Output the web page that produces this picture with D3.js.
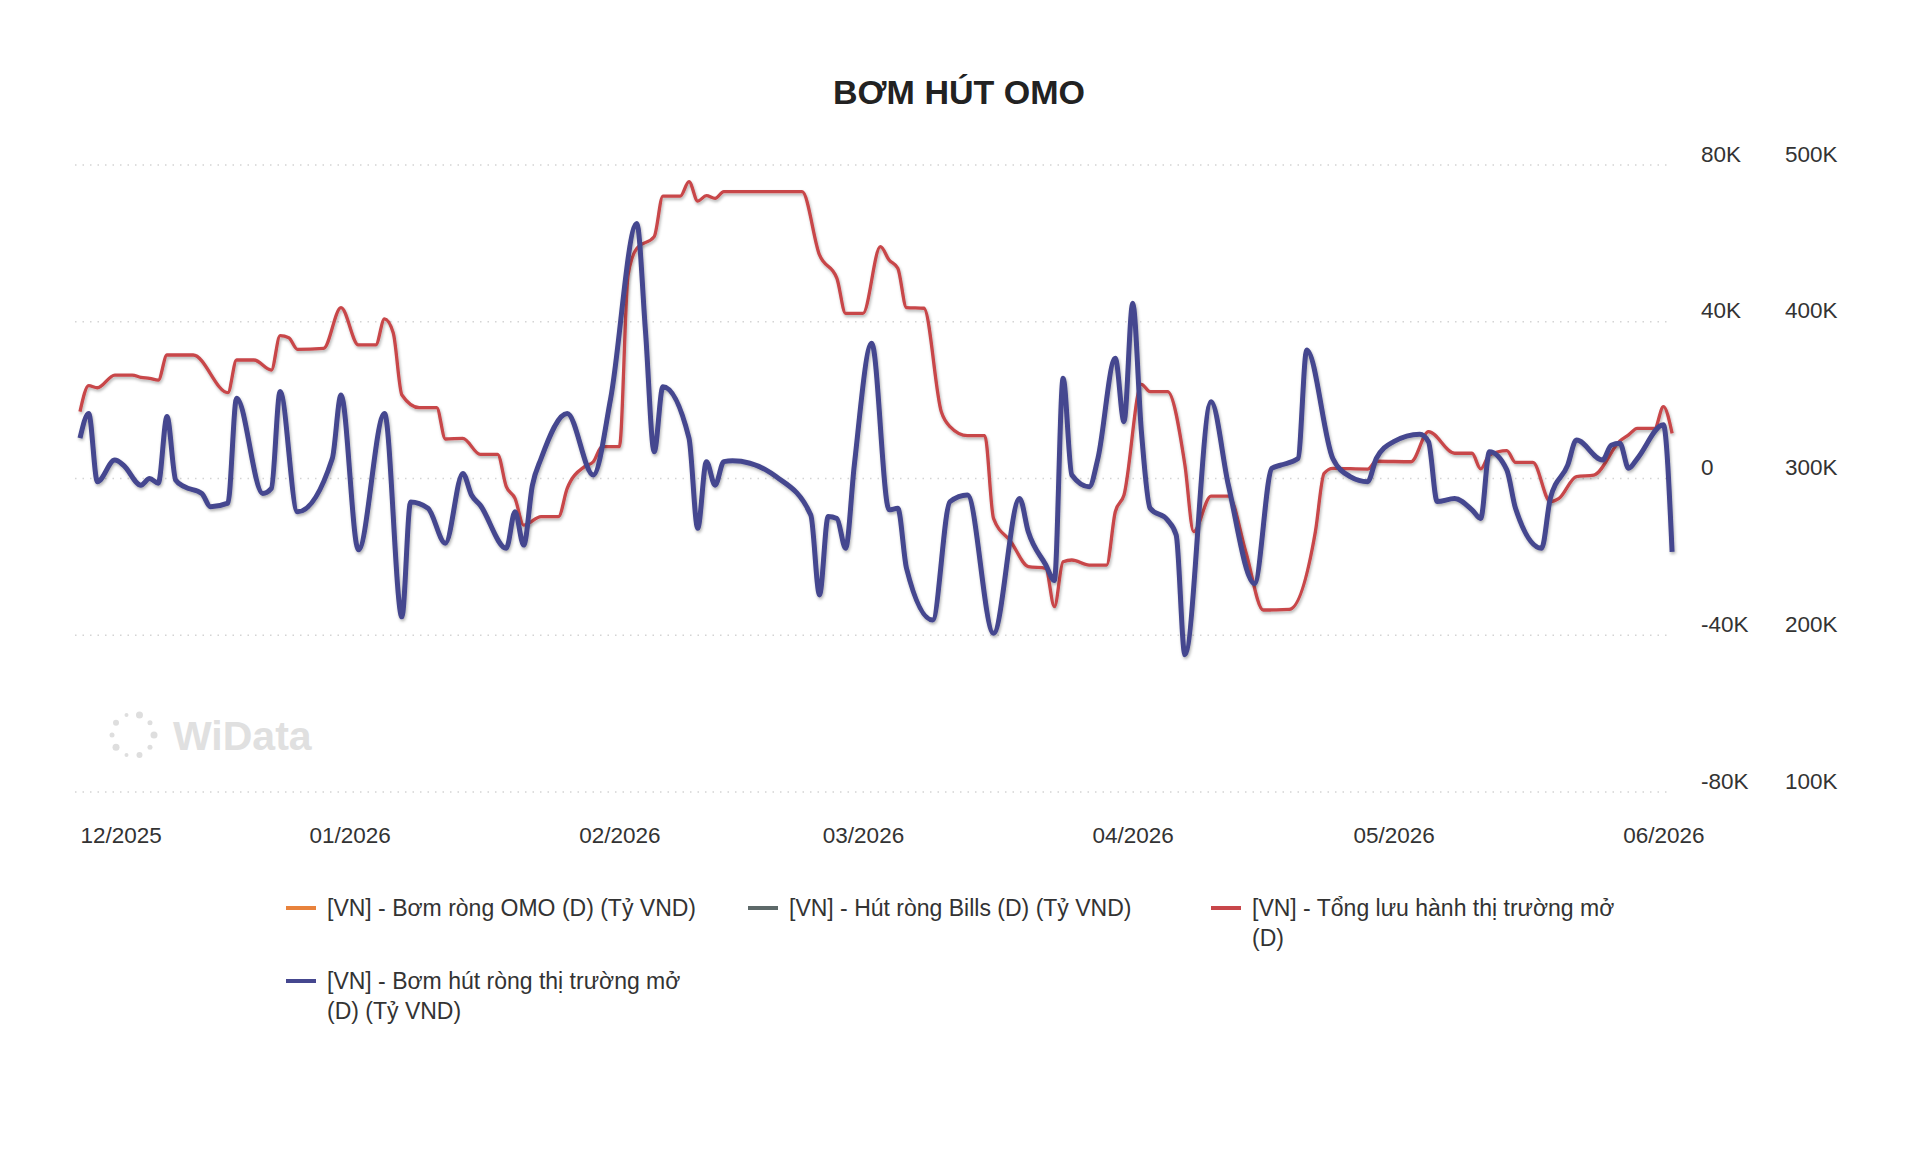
<!DOCTYPE html>
<html>
<head>
<meta charset="utf-8">
<script src="https://cdn.jsdelivr.net/npm/d3@7"></script>
<style>
  body { margin: 0; background: #fff; }
  text { font-family: "Liberation Sans", Arial, sans-serif; }
</style>
</head>
<body>
<div class="container"></div>
<script>
const title = "BƠM HÚT OMO";

const xTickDates = ["2025-12-01", "2026-01-01", "2026-02-01", "2026-03-01", "2026-04-01", "2026-05-01", "2026-06-01"];
const xTickLabels = ["12/2025", "01/2026", "02/2026", "03/2026", "04/2026", "05/2026", "06/2026"];
const leftTicks = [-80, 40, 0, -40, 80];   // nghìn tỷ -> "K"
const rightTicks = [100, 200, 300, 400, 500];

// [VN] - Bơm hút ròng thị trường mở (D) (Tỷ VND), trục trái, đơn vị K
const netDates = [
  "2025-12-01","2025-12-02","2025-12-03","2025-12-05","2025-12-06","2025-12-08","2025-12-09","2025-12-10",
  "2025-12-11","2025-12-12","2025-12-13","2025-12-15","2025-12-16","2025-12-18","2025-12-19","2025-12-22",
  "2025-12-23","2025-12-24","2025-12-26","2025-12-30","2025-12-31","2026-01-02","2026-01-05","2026-01-07",
  "2026-01-08","2026-01-10","2026-01-12","2026-01-14","2026-01-15","2026-01-16","2026-01-19","2026-01-20",
  "2026-01-21","2026-01-22","2026-01-23","2026-01-26","2026-01-29","2026-01-31","2026-02-03","2026-02-04",
  "2026-02-05","2026-02-06","2026-02-09","2026-02-10","2026-02-11","2026-02-12","2026-02-13","2026-02-14",
  "2026-02-16","2026-02-19","2026-02-23","2026-02-24","2026-02-25","2026-02-26","2026-02-27","2026-02-28",
  "2026-03-02","2026-03-04","2026-03-05","2026-03-06","2026-03-09","2026-03-11","2026-03-13","2026-03-16",
  "2026-03-19","2026-03-20","2026-03-22","2026-03-23","2026-03-24","2026-03-25","2026-03-27","2026-03-28",
  "2026-03-30","2026-03-31","2026-04-01","2026-04-02","2026-04-03","2026-04-05","2026-04-06","2026-04-07",
  "2026-04-10","2026-04-12","2026-04-15","2026-04-17","2026-04-18","2026-04-20","2026-04-21","2026-04-24",
  "2026-04-26","2026-04-28","2026-04-29","2026-05-01","2026-05-04","2026-05-05","2026-05-06","2026-05-08",
  "2026-05-10","2026-05-11","2026-05-12","2026-05-14","2026-05-15","2026-05-18","2026-05-19","2026-05-21",
  "2026-05-22","2026-05-25","2026-05-26","2026-05-27","2026-05-28","2026-05-29","2026-06-01","2026-06-02"
];
const netValues = [
  10.3, 16.6, -0.8, 4.7, 3.4, -1.7, 0.0, -1.2,
  15.8, -0.4, -2.1, -3.8, -7.2, -6.3, 20.5, -3.8,
  -2.5, 22.2, -8.5, 5.1, 21.3, -18.2, 16.6, -35.3,
  -6.0, -7.6, -16.5, 1.3, -4.2, -6.8, -17.8, -8.5,
  -17.0, -1.7, 5.1, 16.6, 0.9, 20.5, 65.1, 37.5,
  6.8, 23.4, 10.3, -12.7, 4.3, -1.7, 4.3, 4.5,
  3.9, 0.5, -9.3, -29.7, -9.7, -10.2, -17.8, 3.4,
  34.5, -8.0, -7.6, -22.9, -36.1, -5.9, -4.2, -39.5,
  -5.1, -13.6, -22.0, -26.0, 25.6, 0.9, -2.1, 5.1,
  30.7, 14.5, 44.7, 12.0, -7.6, -10.6, -14.4, -45.0,
  19.6, -1.7, -26.8, 2.6, 3.4, 5.1, 32.8, 5.1,
  0.5, -0.8, 5.1, 9.4, 11.3, 9.4, -5.9, -5.1,
  -8.0, -10.2, 6.8, 2.2, -7.6, -17.8, -5.1, 3.4,
  9.8, 4.7, 8.5, 9.0, 2.6, 5.1, 13.7, -18.7
];

// [VN] - Tổng lưu hành thị trường mở (D), trục phải, đơn vị K
const totalDates = [
  "2025-12-01","2025-12-02","2025-12-03","2025-12-05","2025-12-07","2025-12-08","2025-12-09","2025-12-10",
  "2025-12-11","2025-12-14","2025-12-18","2025-12-19","2025-12-21","2025-12-23","2025-12-24","2025-12-25",
  "2025-12-26","2025-12-29","2025-12-31","2026-01-02","2026-01-04","2026-01-05","2026-01-06","2026-01-07",
  "2026-01-09","2026-01-11","2026-01-12","2026-01-14","2026-01-16","2026-01-18","2026-01-19","2026-01-20",
  "2026-01-21","2026-01-23","2026-01-25","2026-01-26","2026-01-28","2026-01-29","2026-01-30","2026-02-01",
  "2026-02-02","2026-02-03","2026-02-05","2026-02-06","2026-02-08","2026-02-09","2026-02-10","2026-02-11",
  "2026-02-12","2026-02-13","2026-02-22","2026-02-24","2026-02-26","2026-02-27","2026-03-01","2026-03-03",
  "2026-03-04","2026-03-05","2026-03-06","2026-03-08","2026-03-10","2026-03-11","2026-03-13","2026-03-15",
  "2026-03-16","2026-03-18","2026-03-20","2026-03-22","2026-03-23","2026-03-24","2026-03-25","2026-03-27",
  "2026-03-29","2026-03-30","2026-03-31","2026-04-02","2026-04-03","2026-04-05","2026-04-07","2026-04-08",
  "2026-04-10","2026-04-12","2026-04-14","2026-04-16","2026-04-19","2026-04-22","2026-04-23","2026-04-24",
  "2026-04-28","2026-04-29","2026-05-03","2026-05-05","2026-05-08","2026-05-10","2026-05-11","2026-05-12",
  "2026-05-14","2026-05-15","2026-05-17","2026-05-19","2026-05-20","2026-05-22","2026-05-24","2026-05-27",
  "2026-05-28","2026-05-29","2026-05-31","2026-06-01","2026-06-02"
];
const totalValues = [
  342.6, 359.2, 357.9, 366.0, 366.0, 364.5, 363.9, 362.8,
  378.8, 378.8, 354.8, 375.6, 375.6, 369.2, 391.1, 389.8,
  382.4, 383.0, 409.0, 385.2, 385.2, 401.8, 393.0, 353.3,
  345.2, 345.2, 325.2, 325.6, 315.4, 315.4, 294.8, 287.3,
  270.3, 275.7, 275.7, 293.7, 307.6, 310.7, 320.3, 320.3,
  429.8, 446.8, 454.3, 480.2, 480.2, 489.4, 477.0, 480.4,
  478.7, 483.0, 483.0, 442.6, 427.7, 405.4, 405.4, 447.9,
  439.4, 434.1, 409.0, 408.6, 342.6, 333.1, 327.3, 327.3,
  274.6, 259.7, 243.8, 242.7, 218.2, 246.9, 248.0, 244.8,
  244.8, 278.8, 289.5, 360.1, 355.4, 355.4, 308.6, 266.1,
  288.8, 288.8, 253.3, 216.1, 216.5, 266.1, 303.3, 306.5,
  306.0, 311.0, 310.7, 329.9, 316.1, 316.1, 306.1, 315.0,
  317.8, 310.3, 310.3, 285.2, 287.3, 301.2, 302.2, 323.9,
  327.8, 332.0, 332.0, 345.8, 328.8
];

const legendLines = [
  ["[VN] - Bơm ròng OMO (D) (Tỷ VND)"],
  ["[VN] - Hút ròng Bills (D) (Tỷ VND)"],
  ["[VN] - Tổng lưu hành thị trường mở", "(D)"],
  ["[VN] - Bơm hút ròng thị trường mở", "(D) (Tỷ VND)"]
];
const legendColors = ["#e8823c", "#5d6969", "#c8464a", "#45478f"];

const width = 1920, height = 1154;
const plotLeft = 75, plotRight = 1668, plotTop = 165, plotBottom = 792;

const svg = d3.select(".container").append("svg")
    .attr("width", width)
    .attr("height", height)
    .style("background", "#fff");

const defs = svg.append("defs");
const shadow = defs.append("filter").attr("id", "shadow")
    .attr("x", "-5%").attr("y", "-5%").attr("width", "110%").attr("height", "120%");
shadow.append("feDropShadow")
    .attr("dx", 1).attr("dy", 2).attr("stdDeviation", 1.6)
    .attr("flood-color", "#000").attr("flood-opacity", 0.3);

const x = d3.scaleUtc()
    .domain([new Date("2025-12-01"), new Date("2026-06-01")])
    .range([80, 1663.4]);
const yLeft = d3.scaleLinear().domain([-80, 80]).range([plotBottom, plotTop]);
const yRight = d3.scaleLinear().domain([100, 500]).range([plotBottom, plotTop]);

// tiêu đề
svg.append("text")
    .attr("x", 959).attr("y", 104)
    .attr("text-anchor", "middle")
    .attr("font-size", "34px").attr("font-weight", "bold")
    .attr("fill", "#222")
    .text(title);

// lưới chấm
svg.append("g").selectAll("line")
    .data(leftTicks)
    .join("line")
    .attr("x1", plotLeft).attr("x2", plotRight)
    .attr("y1", d => yLeft(d)).attr("y2", d => yLeft(d))
    .attr("stroke", "#d4d4d4")
    .attr("stroke-width", 1.5)
    .attr("stroke-dasharray", "1.5,6");

// watermark
const wm = svg.append("g").attr("transform", "translate(133,735)");
d3.range(10).forEach(i => {
  const a = i / 10 * 2 * Math.PI;
  wm.append("circle")
    .attr("cx", 21 * Math.cos(a)).attr("cy", 21 * Math.sin(a))
    .attr("r", [3.5, 2.5, 3, 2, 3.5, 2.5, 3, 2, 3.5, 2.5][i])
    .attr("fill", "#dedede");
});
svg.append("text")
    .attr("x", 173).attr("y", 750)
    .attr("font-size", "41px").attr("font-weight", "bold")
    .attr("fill", "#e0e0e0")
    .text("WiData");

// trục phải (hai cột nhãn)
const fmtK = d => d === 0 ? "0" : `${d}K`;
const leftAxis = svg.append("g")
    .attr("transform", "translate(1701,-11)")
    .call(d3.axisRight(yLeft).tickValues(leftTicks).tickFormat(fmtK).tickSize(0).tickPadding(0));
const rightAxis = svg.append("g")
    .attr("transform", "translate(1785,-11)")
    .call(d3.axisRight(yRight).tickValues(rightTicks).tickFormat(fmtK).tickSize(0).tickPadding(0));
[leftAxis, rightAxis].forEach(g => {
  g.select(".domain").remove();
  g.selectAll("text").attr("font-size", "22.5px").attr("fill", "#333")
    .attr("font-family", "Liberation Sans, Arial, sans-serif");
});

// trục x
const xAxis = svg.append("g")
    .attr("transform", `translate(0,${plotBottom})`)
    .call(d3.axisBottom(x)
      .tickValues(xTickDates.map(d => new Date(d)))
      .tickFormat((d, i) => xTickLabels[i])
      .tickSize(0).tickPadding(35));
xAxis.select(".domain").remove();
xAxis.selectAll("text").attr("font-size", "22.5px").attr("fill", "#333")
    .attr("font-family", "Liberation Sans, Arial, sans-serif");
xAxis.selectAll("text").filter((d, i) => i === 0).attr("text-anchor", "start");

// đường
const totalLine = d3.line()
    .x((d, i) => x(new Date(totalDates[i])))
    .y(d => yRight(d))
    .curve(d3.curveMonotoneX);
const netLine = d3.line()
    .x((d, i) => x(new Date(netDates[i])))
    .y(d => yLeft(d))
    .curve(d3.curveMonotoneX);

svg.append("path")
    .datum(totalValues)
    .attr("d", totalLine)
    .attr("fill", "none")
    .attr("stroke", legendColors[2])
    .attr("stroke-width", 3.3)
    .attr("stroke-linejoin", "round")
    .attr("filter", "url(#shadow)");

svg.append("path")
    .datum(netValues)
    .attr("d", netLine)
    .attr("fill", "none")
    .attr("stroke", legendColors[3])
    .attr("stroke-width", 5)
    .attr("stroke-linejoin", "round")
    .attr("filter", "url(#shadow)");

// chú giải
const legendPos = [[286, 916], [748, 916], [1211, 916], [286, 989]];
const items = svg.append("g").selectAll("g")
    .data(legendLines)
    .join("g")
    .attr("transform", (d, i) => `translate(${legendPos[i][0]},${legendPos[i][1]})`);
items.append("line")
    .attr("x1", 0).attr("x2", 30)
    .attr("y1", -8).attr("y2", -8)
    .attr("stroke", (d, i) => legendColors[i])
    .attr("stroke-width", 4);
items.append("text")
    .attr("font-size", "23px").attr("fill", "#333")
    .selectAll("tspan")
    .data(d => d)
    .join("tspan")
    .attr("x", 41)
    .attr("y", (d, i) => i * 29.5)
    .text(d => d);
</script>
</body>
</html>
